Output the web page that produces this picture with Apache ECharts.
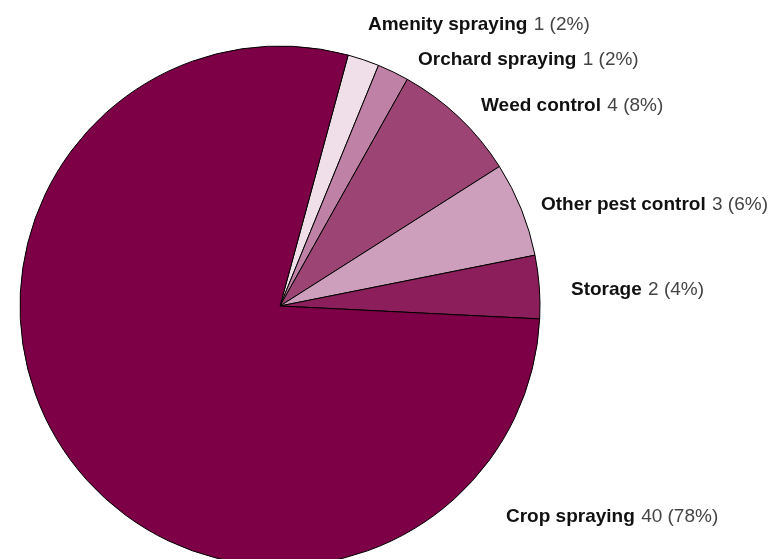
<!DOCTYPE html>
<html>
<head>
<meta charset="utf-8">
<script src="https://cdn.jsdelivr.net/npm/echarts@6/dist/echarts.min.js"></script>
<style>
  html, body { margin: 0; padding: 0; background: #fff; }
  #chart { width: 773px; height: 559px; }
</style>
</head>
<body>
<div id="chart"></div>
<script>
// Pesticide use categories, in clockwise order
const categories = ['Amenity spraying', 'Orchard spraying', 'Weed control', 'Other pest control', 'Storage', 'Crop spraying'];
const counts = [1, 1, 4, 3, 2, 40];
const percents = [2, 2, 8, 6, 4, 78];

// Slice colours
const sliceColors = ['#f0dfe9', '#c081a6', '#9c4474', '#cd9fbc', '#8c1f5b', '#7d0046'];

// Where each label's left edge / vertical centre sits
const labelAnchors = [[368, 25], [418, 60], [481, 106], [541, 205], [571, 290], [506, 517]];

const chart = echarts.init(document.getElementById('chart'), null, { renderer: 'canvas' });

const labelFont = 'Liberation Sans, Arial, sans-serif';

chart.setOption({
  animation: false,
  backgroundColor: '#ffffff',
  series: [{
    type: 'pie',
    center: [280, 306],
    radius: [0, 260],
    startAngle: 74.8,
    clockwise: true,
    avoidLabelOverlap: false,
    itemStyle: { borderColor: '#000', borderWidth: 1 },
    emphasis: { disabled: true },
    labelLine: { show: false },
    label: {
      show: true,
      position: 'outside',
      formatter: p => '{b|' + p.name + '} {v|' + counts[p.dataIndex] + ' (' + percents[p.dataIndex] + '%)}',
      rich: {
        b: { fontFamily: labelFont, fontWeight: 'bold', fontSize: 19, color: '#111' },
        v: { fontFamily: labelFont, fontSize: 19, color: '#444', padding: [0, 0, 0, 3] }
      }
    },
    labelLayout: params => ({
      x: labelAnchors[params.dataIndex][0],
      y: labelAnchors[params.dataIndex][1],
      align: 'left',
      verticalAlign: 'middle'
    }),
    data: categories.map((name, i) => ({
      name: name,
      value: counts[i],
      itemStyle: { color: sliceColors[i] }
    }))
  }]
});
</script>
</body>
</html>
